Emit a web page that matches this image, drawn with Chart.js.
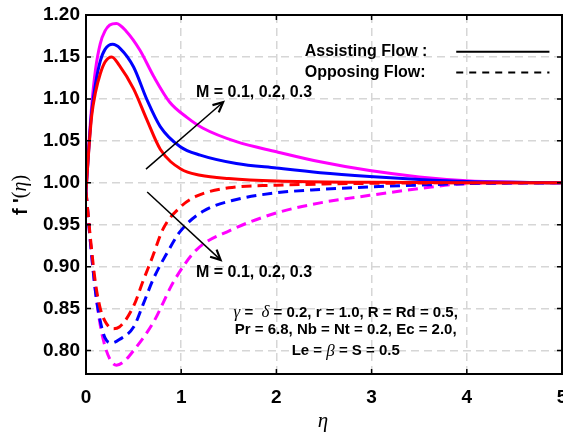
<!DOCTYPE html>
<html>
<head>
<meta charset="utf-8">
<script src="https://cdn.jsdelivr.net/npm/chart.js@4/dist/chart.umd.min.js"></script>
<style>
  html, body { margin: 0; padding: 0; background: #fff; }
  #wrap { width: 563px; height: 443px; }
</style>
</head>
<body>
<div id="wrap"><canvas id="grafico" width="563" height="443"></canvas></div>
<script>
// eixo x: eta, eixo y: f'(eta)
const xTicks = [0, 1, 2, 3, 4, 5];
const yTicks = [0.80, 0.85, 0.90, 0.95, 1.00, 1.05, 1.10, 1.15, 1.20];
const mValores = [0.1, 0.2, 0.3];
const cores = ['#ff0000', '#0000ff', '#ff00ff'];

// Assisting flow (linhas cheias)
const etaAssist1 = [0, 0.03, 0.06, 0.1, 0.15, 0.2, 0.27, 0.35, 0.5, 0.64, 0.78, 1.0, 1.2, 1.5, 2.0, 3.0, 4.0, 5.0];
const fAssist1   = [0.99, 1.04, 1.08, 1.108, 1.13, 1.144, 1.15, 1.14, 1.112, 1.075, 1.04, 1.016, 1.009, 1.005, 1.002, 1.0005, 1.0, 1.0];
const etaAssist2 = [0, 0.03, 0.06, 0.1, 0.15, 0.2, 0.28, 0.36, 0.5, 0.64, 0.78, 0.99, 1.2, 1.58, 2.0, 2.46, 2.98, 3.5, 4.0, 4.5, 5.0];
const fAssist2   = [0.99, 1.042, 1.085, 1.118, 1.145, 1.159, 1.165, 1.16, 1.138, 1.099, 1.067, 1.043, 1.033, 1.023, 1.0175, 1.012, 1.0075, 1.004, 1.0015, 1.0005, 1.0];
const etaAssist3 = [0, 0.03, 0.06, 0.1, 0.15, 0.2, 0.25, 0.32, 0.42, 0.567, 0.71, 0.88, 1.06, 1.23, 1.58, 2.0, 2.46, 2.98, 3.5, 4.0, 4.5, 5.0];
const fAssist3   = [0.99, 1.045, 1.092, 1.135, 1.166, 1.181, 1.188, 1.19, 1.181, 1.158, 1.127, 1.096, 1.078, 1.065, 1.049, 1.037, 1.025, 1.0145, 1.007, 1.0025, 1.0007, 1.0];

// Opposing flow (tracejadas)
const etaOppos1 = [0, 0.05, 0.1, 0.15, 0.2, 0.28, 0.35, 0.5, 0.6, 0.7, 0.81, 1.0, 1.16, 1.5, 2.0, 2.5, 3.0, 4.0, 5.0];
const fOppos1   = [0.99, 0.93, 0.88, 0.85, 0.835, 0.826, 0.828, 0.853, 0.883, 0.912, 0.945, 0.972, 0.984, 0.994, 0.997, 0.9985, 0.9993, 1.0, 1.0];
const etaOppos2 = [0, 0.05, 0.1, 0.15, 0.2, 0.27, 0.35, 0.5, 0.6, 0.71, 0.85, 0.99, 1.23, 1.58, 2.0, 2.46, 2.98, 3.57, 4.0, 5.0];
const fOppos2   = [0.99, 0.925, 0.87, 0.835, 0.815, 0.809, 0.813, 0.828, 0.855, 0.886, 0.916, 0.942, 0.966, 0.98, 0.988, 0.992, 0.995, 0.9975, 0.999, 1.0];
const etaOppos3 = [0, 0.05, 0.1, 0.15, 0.2, 0.25, 0.32, 0.4, 0.5, 0.71, 0.92, 1.16, 1.51, 2.0, 2.46, 2.98, 3.5, 4.0, 5.0];
const fOppos3   = [0.99, 0.925, 0.87, 0.83, 0.805, 0.79, 0.7825, 0.787, 0.80, 0.834, 0.882, 0.92, 0.943, 0.964, 0.976, 0.985, 0.993, 0.999, 1.0];

const pontos = (xs, ys) => xs.map((x, i) => ({ x, y: ys[i] }));

const series = [
  [etaAssist1, fAssist1, false], [etaAssist2, fAssist2, false], [etaAssist3, fAssist3, false],
  [etaOppos1, fOppos1, true], [etaOppos2, fOppos2, true], [etaOppos3, fOppos3, true]
];

const datasets = series.map(([xs, ys, tracejada], i) => ({
  label: (tracejada ? 'Opposing' : 'Assisting') + ' M = ' + mValores[i % 3],
  data: pontos(xs, ys),
  borderColor: cores[i % 3],
  borderWidth: 3,
  borderDash: tracejada ? [10, 6] : [],
  pointRadius: 0,
  fill: false,
  cubicInterpolationMode: 'monotone'
}));

const SANS = '"Liberation Sans", Arial, Helvetica, sans-serif';
const SERIF = '"Liberation Serif", "Times New Roman", serif';

// texto com partes em fontes diferentes
function textoMisto(ctx, partes, x, y, align) {
  let total = 0;
  partes.forEach(p => { ctx.font = p[1]; total += ctx.measureText(p[0]).width; });
  let cx = align === 'center' ? x - total / 2 : x;
  ctx.textBaseline = 'middle';
  ctx.textAlign = 'left';
  partes.forEach(p => {
    ctx.font = p[1];
    ctx.fillText(p[0], cx, y);
    cx += ctx.measureText(p[0]).width;
  });
}

function seta(ctx, x1, y1, x2, y2) {
  const ang = Math.atan2(y2 - y1, x2 - x1);
  const L = 11;
  ctx.beginPath();
  ctx.moveTo(x1, y1);
  ctx.lineTo(x2, y2);
  ctx.lineWidth = 1.5;
  ctx.stroke();
  ctx.beginPath();
  ctx.moveTo(x2 - L * Math.cos(ang - 0.45), y2 - L * Math.sin(ang - 0.45));
  ctx.lineTo(x2, y2);
  ctx.lineTo(x2 - L * Math.cos(ang + 0.45), y2 - L * Math.sin(ang + 0.45));
  ctx.lineWidth = 2.2;
  ctx.stroke();
}

const extras = {
  id: 'extras',
  afterDatasetsDraw(chart) {
    const ctx = chart.ctx;
    const a = chart.chartArea;
    const sx = chart.scales.x, sy = chart.scales.y;
    const px = v => sx.getPixelForValue(v);
    const py = v => sy.getPixelForValue(v);
    ctx.save();
    ctx.strokeStyle = '#000';
    ctx.fillStyle = '#000';
    ctx.setLineDash([]);

    // moldura e ticks para dentro
    ctx.lineWidth = 2;
    ctx.strokeRect(a.left, a.top, a.right - a.left, a.bottom - a.top);
    ctx.lineWidth = 1.5;
    xTicks.forEach(v => {
      const x = px(v);
      ctx.beginPath();
      ctx.moveTo(x, a.bottom); ctx.lineTo(x, a.bottom - 5);
      ctx.moveTo(x, a.top); ctx.lineTo(x, a.top + 5);
      ctx.stroke();
    });
    yTicks.forEach(v => {
      const y = py(v);
      ctx.beginPath();
      ctx.moveTo(a.left, y); ctx.lineTo(a.left + 5, y);
      ctx.moveTo(a.right, y); ctx.lineTo(a.right - 5, y);
      ctx.stroke();
    });

    // legenda
    const fLeg = 'bold 16px ' + SANS;
    textoMisto(ctx, [['Assisting Flow :', fLeg]], px(2.298), py(1.1563), 'left');
    textoMisto(ctx, [['Opposing Flow:', fLeg]], px(2.298), py(1.1313), 'left');
    ctx.lineWidth = 2;
    ctx.beginPath();
    ctx.moveTo(px(3.889), py(1.1563)); ctx.lineTo(px(4.868), py(1.1563));
    ctx.stroke();
    ctx.setLineDash([7, 6]);
    ctx.beginPath();
    ctx.moveTo(px(3.889), py(1.1313)); ctx.lineTo(px(4.868), py(1.1313));
    ctx.stroke();
    ctx.setLineDash([]);

    // setas e rótulos de M
    seta(ctx, px(0.63), py(1.0163), px(1.44), py(1.096));
    seta(ctx, px(0.643), py(0.989), px(1.414), py(0.908));
    const fM = 'bold 16px ' + SANS;
    textoMisto(ctx, [['M = 0.1, 0.2, 0.3', fM]], px(1.765), py(1.1075), 'center');
    textoMisto(ctx, [['M = 0.1, 0.2, 0.3', fM]], px(1.765), py(0.893), 'center');

    // parâmetros
    const fP = 'bold 15px ' + SANS;
    const fG = 'italic 17px ' + SERIF;
    textoMisto(ctx, [['γ', fG], [' =  ', fP], ['δ', fG], [' = 0.2, r = 1.0, R = Rd = 0.5,', fP]], px(2.728), py(0.845), 'center');
    textoMisto(ctx, [['Pr = 6.8, Nb = Nt = 0.2, Ec = 2.0,', fP]], px(2.728), py(0.825), 'center');
    textoMisto(ctx, [['Le = ', fP], ['β', fG], [' = S = 0.5', fP]], px(2.728), py(0.799), 'center');

    // títulos dos eixos
    textoMisto(ctx, [['η', 'italic 21px ' + SERIF]], px(2.49), 421, 'center');
    ctx.translate(21, 195);
    ctx.rotate(-Math.PI / 2);
    textoMisto(ctx, [["f '", 'bold 20px ' + SANS], ['(', '20px ' + SERIF], ['η', 'italic 20px ' + SERIF], [')', '20px ' + SERIF]], 0, 0, 'center');
    ctx.restore();
  }
};

new Chart(document.getElementById('grafico'), {
  type: 'line',
  data: { datasets },
  options: {
    responsive: false,
    animation: false,
    devicePixelRatio: 1,
    layout: { padding: { top: 15, right: 1, left: 0, bottom: 0 } },
    plugins: { legend: { display: false }, title: { display: false }, tooltip: { enabled: false } },
    scales: {
      x: {
        type: 'linear', min: 0, max: 5,
        afterBuildTicks: s => { s.ticks = xTicks.map(v => ({ value: v })); },
        afterFit: s => { s.height = 69; s.paddingLeft = 0; s.paddingRight = 0; },
        ticks: { padding: 12, color: '#000', font: { family: SANS, size: 19, weight: 'bold' }, maxRotation: 0 },
        grid: { color: '#d6d6d6', lineWidth: 1.5, drawTicks: false },
        border: { display: false, dash: [8, 5] }
      },
      y: {
        type: 'linear', min: 0.772, max: 1.2,
        afterBuildTicks: s => { s.ticks = yTicks.map(v => ({ value: v })); },
        afterFit: s => { s.width = 86; s.paddingTop = 0; s.paddingBottom = 0; },
        ticks: { padding: 6, color: '#000', font: { family: SANS, size: 19, weight: 'bold' }, callback: v => v.toFixed(2) },
        grid: { color: '#d6d6d6', lineWidth: 1.5, drawTicks: false },
        border: { display: false, dash: [8, 5] }
      }
    }
  },
  plugins: [extras]
});
</script>
</body>
</html>
